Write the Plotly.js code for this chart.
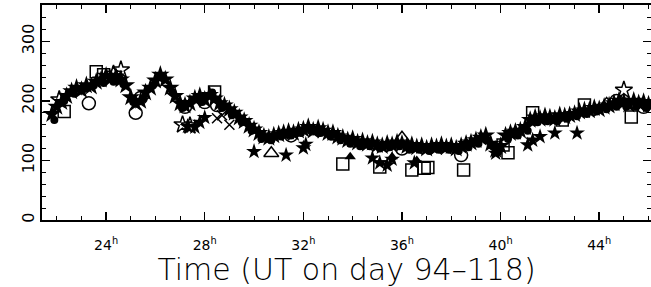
<!DOCTYPE html>
<html><head><meta charset="utf-8">
<script src="https://cdn.plot.ly/plotly-3.0.1.min.js"></script>
<style>html,body{margin:0;padding:0;background:#fff}#c{width:651px;height:287px}</style>
</head><body><div id="c"></div>
<script>
// Main band (filled stars)
const starX = [21.8,22.0,22.2,22.4,22.6,22.8,23.0,23.2,23.4,23.6,23.8,24.0,24.2,24.4,24.6,24.8,25.0,25.2,25.4,25.6,25.8,26.0,26.2,26.4,26.6,26.8,27.0,27.2,27.4,27.6,27.8,28.0,28.2,28.4,28.6,28.8,29.0,29.2,29.4,29.6,29.8,30.0,30.2,30.4,30.6,30.8,31.0,31.2,31.4,31.6,31.8,32.0,32.2,32.4,32.6,32.8,33.0,33.2,33.4,33.6,33.8,34.0,34.2,34.4,34.6,34.8,35.0,35.2,35.4,35.6,35.8,36.0,36.2,36.4,36.6,36.8,37.0,37.2,37.4,37.6,37.8,38.0,38.2,38.4,38.6,38.8,39.0,39.2,39.4,39.6,39.8,40.0,40.2,40.4,40.6,40.8,41.0,41.2,41.4,41.6,41.8,42.0,42.2,42.4,42.6,42.8,43.0,43.2,43.4,43.6,43.8,44.0,44.2,44.4,44.6,44.8,45.0,45.2,45.4,45.6,45.8,46.0];
const starY = [178,190,198,208,216,222,218,226,224,232,236,242,238,241,236,226,206,196,200,214,222,234,244,236,222,208,196,192,196,204,208,202,210,204,196,192,186,180,172,166,158,152,146,140,138,142,144,146,148,146,150,152,156,150,154,150,146,146,140,138,134,136,130,132,128,130,126,124,128,126,130,128,124,126,122,124,120,124,122,126,122,124,120,124,128,130,134,138,142,128,118,124,142,146,148,150,156,168,172,170,174,172,170,176,174,176,178,182,184,184,188,186,190,192,196,200,198,194,200,196,198,194];
// Filled circles
const dotX = [21.9,22.3,22.7,23.1,23.5,23.9,24.3,24.7,25.1,25.5,25.9,26.3,26.7,27.1,27.5,27.9,28.3,28.7,29.1,29.5,29.9,30.3,30.7,31.1,31.5,31.9,32.3,32.7,33.1,33.5,33.9,34.3,34.7,35.1,35.5,35.9,36.3,36.7,37.1,37.5,37.9,38.3,38.7,39.1,39.5,39.9,40.3,40.7,41.1,41.5,41.9,42.3,42.7,43.1,43.5,43.9,44.3,44.7,45.1,45.5,45.9];
const dotY = [168,200,212,220,226,230,232,228,198,204,226,238,214,188,200,198,214,188,176,164,150,136,134,140,142,146,150,146,140,134,128,124,124,120,122,124,118,118,116,118,118,116,122,128,134,114,136,142,150,164,166,166,170,174,178,182,186,190,190,190,188];
// Outlying filled stars
const star2X = [27.3,27.6,27.8,28.0,30.0,31.3,32.0,32.1,34.8,35.1,35.4,35.6,36.5,39.8,41.1,41.3,41.6,42.2,43.1];
const star2Y = [157,156,164,172,115,109,121,127,104,96,92,102,96,112,126,134,140,146,146];
// Open squares
const sqX = [22.3,23.6,23.9,28.4,33.6,35.1,36.4,36.9,37.05,38.5,40.1,40.3,41.3,42.5,43.4,45.3];
const sqY = [182,249,244,215,94,89,84,87,88,84,126,113,180,168,193,173];
// Open circles
const ocX = [23.3,25.2,25.4,27.2,28.0,28.5,31.5,36.0,38.4,44.7,45.8];
const ocY = [196,180,205,190,198,193,142,120,109,200,190];
// Open triangles
const otX = [30.7,36.0,33.4,44.3];
const otY = [112,138,140,195];
// Filled triangles
const ftX = [33.9,35.6,36.6];
const ftY = [106,106,100];
// Open stars
const osX = [22.1,24.3,24.6,27.1,27.4,45.0];
const osY = [202,245,252,160,158,218];
// Crosses
const xX = [28.5,28.7,29.0];
const xY = [171,176,160];

const tickVals = [24,28,32,36,40,44];
const tickText = tickVals.map(v => v + '<sup>h</sup>');
const yTicks = [0,100,200,300];

function tr(x,y,sym,size,lw){
  return {x:x,y:y,type:'scatter',mode:'markers',hoverinfo:'skip',
    marker:{symbol:sym,size:size,color:'#000',line:{color:'#000',width:lw||0}}};
}
const data = [
  tr(starX,starY,'star',14),
  tr(dotX,dotY,'circle',8),
  tr(star2X,star2Y,'star',12),
  tr(sqX,sqY,'square-open',12,1.5),
  tr(ocX,ocY,'circle-open',13,1.5),
  tr(otX,otY,'triangle-up-open',13,1.5),
  tr(ftX,ftY,'triangle-up',10),
  tr(osX,osY,'star-open',13,1.5),
  tr(xX,xY,'x-thin-open',10,1.5)
];
const F = 'DejaVu Sans, Liberation Sans, sans-serif';
const layout = {
  width:651,height:287,showlegend:false,
  margin:{l:42,r:0,t:5,b:67},
  paper_bgcolor:'#fff',plot_bgcolor:'#fff',
  font:{family:F,color:'#000',size:15},
  xaxis:{range:[21.4,46.1],tickvals:tickVals,ticktext:tickText,
    ticks:'inside',ticklen:8,tickwidth:1.5,tickcolor:'#000',
    showline:true,linecolor:'#000',linewidth:2,mirror:'allticks',
    showgrid:false,zeroline:false,ticklabelstandoff:11,
    minor:{dtick:1,tick0:0,ticks:'inside',ticklen:4,tickcolor:'#000',tickwidth:1},
    tickfont:{size:14,family:F},
    title:{text:'Time (UT on day 94\u2013118)',font:{size:30,family:F,weight:300,color:'#000'},standoff:0}},
  yaxis:{range:[0,361],tickvals:yTicks,ticktext:yTicks.map(String),tickangle:-90,
    ticks:'inside',ticklen:8,tickwidth:1.5,tickcolor:'#000',
    showline:true,linecolor:'#000',linewidth:2,mirror:'allticks',
    showgrid:false,zeroline:false,
    minor:{dtick:20,tick0:0,ticks:'inside',ticklen:4,tickcolor:'#000',tickwidth:1},
    tickfont:{size:16,family:F},ticklabelstandoff:0}
};
Plotly.newPlot('c',data,layout,{staticPlot:true,displayModeBar:false});
</script></body></html>
